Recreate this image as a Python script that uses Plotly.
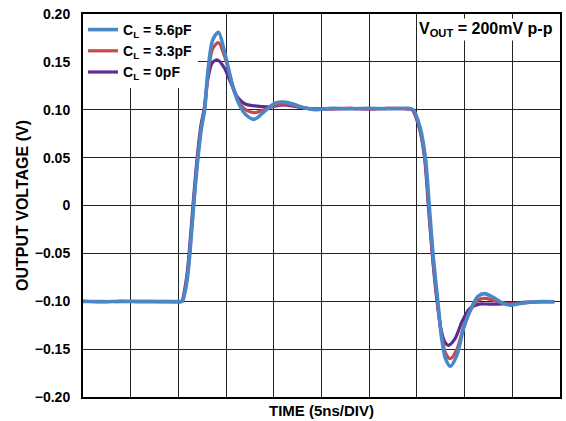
import plotly.graph_objects as go

# Time (ns) and output voltage (V)
t_blue = [0, 2, 4, 6, 8, 10, 10.4, 10.7, 11.0, 11.2, 11.6, 12.0, 12.4, 12.75, 13.1, 13.6, 14.2,
          14.8, 15.2, 15.7, 16.4, 17.1, 17.95, 19.2, 20.2, 21.1, 22.0, 23.0, 24.4, 26, 28, 30, 32, 34,
          34.6, 35.35, 35.9, 36.3, 36.7, 37.2, 37.6, 38.0, 38.5, 39.2, 39.9, 40.7, 41.4, 42.1,
          43.0, 44.0, 44.8, 46.0, 47.5, 49.4]
v_blue = [-0.100, -0.1005, -0.100, -0.1003, -0.1005, -0.1003, -0.100, -0.090, -0.071, -0.050, 0.000, 0.045, 0.080, 0.100, 0.141, 0.173, 0.181,
          0.162, 0.145, 0.124, 0.105, 0.0945, 0.090, 0.100, 0.107, 0.108, 0.106, 0.1025, 0.1000, 0.1015, 0.101, 0.1015, 0.101, 0.1015,
          0.100, 0.081, 0.049, -0.001, -0.052, -0.101, -0.139, -0.160, -0.168, -0.156, -0.128, -0.107, -0.095, -0.092,
          -0.096, -0.102, -0.104, -0.102, -0.1005, -0.1005]

t_red = [0, 2, 4, 6, 8, 10, 10.4, 10.7, 11.0, 11.2, 11.6, 12.0, 12.4, 12.75, 13.1, 13.6, 14.2,
         14.8, 15.3, 15.8, 16.4, 17.2, 18.0, 19.0, 20.3, 21.2, 22.2, 23.2, 24.6, 26, 28, 30, 32, 34,
         34.55, 35.3, 35.85, 36.25, 36.65, 37.15, 37.6, 38.0, 38.5, 39.2, 39.9, 40.7, 41.4, 42.1,
         43.0, 44.0, 45.0, 46.5, 48.0, 49.4]
v_red = [-0.1005, -0.100, -0.1005, -0.100, -0.1003, -0.1005, -0.100, -0.089, -0.069, -0.048, 0.002, 0.047, 0.082, 0.101, 0.137, 0.164, 0.170,
         0.157, 0.140, 0.122, 0.107, 0.099, 0.097, 0.100, 0.105, 0.106, 0.104, 0.102, 0.1005, 0.101, 0.1015, 0.101, 0.1015, 0.101,
         0.100, 0.081, 0.049, -0.001, -0.052, -0.100, -0.136, -0.154, -0.160, -0.150, -0.127, -0.108, -0.099, -0.097,
         -0.099, -0.102, -0.103, -0.1015, -0.1005, -0.1005]

t_purple = [0, 2, 4, 6, 8, 10, 10.35, 10.65, 10.95, 11.15, 11.55, 11.95, 12.35, 12.7, 13.05, 13.55, 14.1,
            14.8, 15.5, 16.2, 17.0, 18.0, 19.5, 21.0, 22.5, 24, 26, 28, 30, 32, 34,
            34.5, 35.25, 35.8, 36.2, 36.6, 37.1, 37.5, 37.9, 38.3, 39.0, 39.7, 40.5, 41.5, 42.5,
            43.5, 45.0, 46.5, 48.0, 49.4]
v_purple = [-0.100, -0.1005, -0.100, -0.1005, -0.100, -0.1003, -0.100, -0.088, -0.068, -0.047, 0.003, 0.048, 0.083, 0.101, 0.130, 0.149, 0.152,
            0.144, 0.128, 0.113, 0.106, 0.104, 0.103, 0.105, 0.103, 0.101, 0.101, 0.1015, 0.101, 0.1015, 0.101,
            0.100, 0.081, 0.050, 0.000, -0.050, -0.099, -0.128, -0.142, -0.146, -0.139, -0.122, -0.108, -0.103, -0.103,
            -0.103, -0.102, -0.101, -0.1005, -0.1005]

series_names = ["C<sub>L</sub> = 0pF", "C<sub>L</sub> = 3.3pF", "C<sub>L</sub> = 5.6pF"]
series_colors = ["#5B2D94", "#C9474A", "#4A87C9"]

y_tickvals = [-0.20, -0.15, -0.10, -0.05, 0, 0.05, 0.10, 0.15, 0.20]
y_ticktext = ["\u22120.20", "\u22120.15", "\u22120.10", "\u22120.05", "0", "0.05", "0.10", "0.15", "0.20"]
x_gridvals = [0, 5, 10, 15, 20, 25, 30, 35, 40, 45, 50]

FONT = "Liberation Sans, Arial, sans-serif"

fig = go.Figure()
for t, v, name, col, w in [(t_purple, v_purple, series_names[0], series_colors[0], 3.2),
                           (t_red, v_red, series_names[1], series_colors[1], 3.2),
                           (t_blue, v_blue, series_names[2], series_colors[2], 3.6)]:
    fig.add_trace(go.Scatter(x=t, y=v, mode="lines", name=name,
                             line=dict(color=col, width=w, shape="spline", smoothing=0.8)))

fig.update_layout(
    width=566, height=421,
    margin=dict(l=83, r=4, t=14, b=24),
    paper_bgcolor="white", plot_bgcolor="white",
    font=dict(family=FONT, size=12, color="black", weight="bold"),
    showlegend=True,
    legend=dict(x=0, y=1, xanchor="left", yanchor="top", bgcolor="white",
                traceorder="reversed", font=dict(family=FONT, size=14, weight="bold", color="black"),
                itemwidth=30, tracegroupgap=0, borderwidth=0),
    xaxis=dict(range=[0, 50], tickvals=x_gridvals, showticklabels=False, ticks="",
               showgrid=True, gridcolor="#222222", gridwidth=1.3, zeroline=False,
               showline=True, linecolor="black", linewidth=2, mirror=True,
               title=dict(text="TIME (5ns/DIV)", standoff=7,
                          font=dict(family=FONT, size=15, weight="bold"))),
    yaxis=dict(range=[-0.20, 0.20], tickvals=y_tickvals, ticktext=y_ticktext, ticks="",
               showgrid=True, gridcolor="#222222", gridwidth=1.3, zeroline=False,
               showline=True, linecolor="black", linewidth=2, mirror=True,
               ticklabelstandoff=8,
               tickfont=dict(family=FONT, size=14, weight="bold"),
               title=dict(text="OUTPUT VOLTAGE (V)", standoff=2,
                          font=dict(family=FONT, size=16, weight="bold"))),
    annotations=[dict(text="V<sub>OUT</sub> = 200mV p-p", xref="paper", yref="paper",
                      x=0.99, y=0.99, xanchor="right", yanchor="top", showarrow=False,
                      bgcolor="white", font=dict(family=FONT, size=16, weight="bold"))],
)

fig.write_html("out.html", config={"displayModeBar": False},
               post_script="document.body.style.margin='0';document.body.style.overflow='hidden';")
